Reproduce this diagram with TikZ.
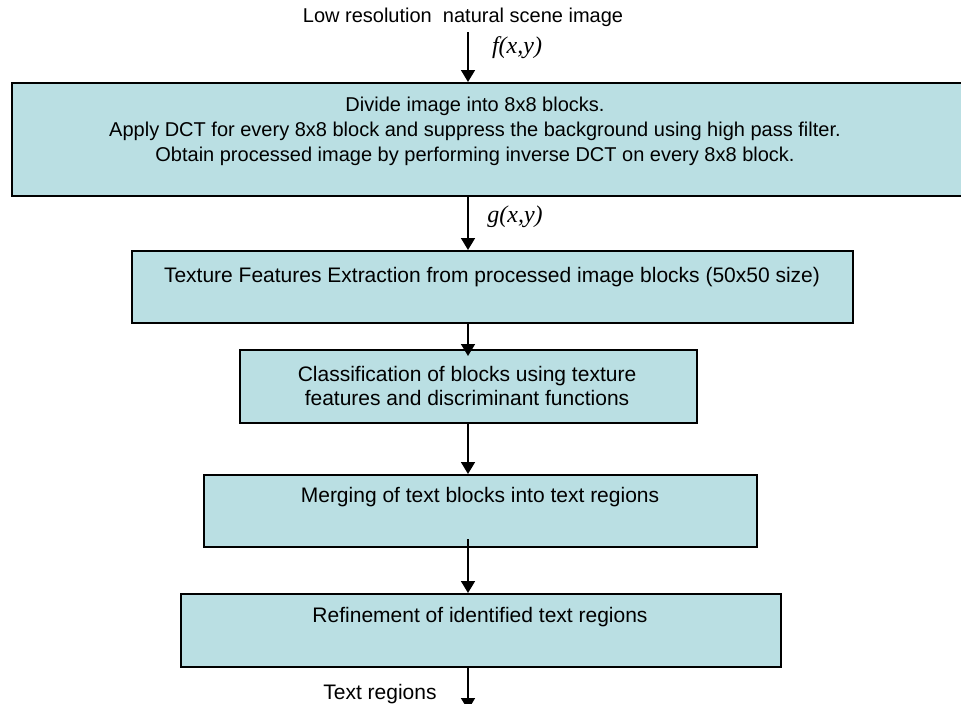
\documentclass[tikz,border=0pt]{standalone}
\usepackage{fontspec}
\setmainfont{Liberation Sans}
\newfontfamily\mathserif{Liberation Serif}
\usetikzlibrary{arrows.meta}
\definecolor{boxfill}{RGB}{186,223,227}
\tikzset{
  stage/.style={draw=black, line width=2pt, fill=boxfill, anchor=north west, inner sep=0pt},
  stagetext/.style={font=\fontsize{21}{24}\selectfont, align=center, inner sep=0pt},
  widetext/.style={font=\fontsize{20}{25}\selectfont, align=center, inner sep=0pt},
  flow/.style={line width=1.6pt, -{Triangle[length=12pt,width=14pt]}},
  sig/.style={font=\mathserif\itshape\fontsize{24}{26}\selectfont, inner sep=0pt}
}
\begin{document}
\begin{tikzpicture}[x=1pt,y=-1pt]
\clip (0,0) rectangle (961,704);
\fill[white] (0,0) rectangle (961,704);

% processing stages
\node[stage, minimum width=960pt, minimum height=113pt] (b1) at (11,82) {};
\node[stage, minimum width=721pt, minimum height=72pt] (b2) at (131,250) {};
\node[stage, minimum width=457pt, minimum height=73pt] (b3) at (239,349) {};
\node[stage, minimum width=553pt, minimum height=72pt] (b4) at (203,474) {};
\node[stage, minimum width=600pt, minimum height=73pt] (b5) at (180,593) {};

% stage descriptions
\node[widetext] (t1) at (475,131) {Divide image into 8x8 blocks.\\Apply DCT for every 8x8 block and suppress the background using high pass filter.\\Obtain processed image by performing inverse DCT on every 8x8 block.};
\node[stagetext] (t2) at (492,277) {Texture Features Extraction from processed image blocks (50x50 size)};
\node[stagetext] (t3) at (467,386) {Classification of blocks using texture\\features and discriminant functions};
\node[stagetext] (t4) at (480,497) {Merging of text blocks into text regions};
\node[stagetext] (t5) at (480,617) {Refinement of identified text regions};

% input and output labels
\node[widetext] (in) at (463,17) {Low resolution\ \ natural scene image};
\node[stagetext] (out) at (380,694) {Text regions};
\node[sig] (f) at (517,48) {f(x,y)};
\node[sig] (g) at (515,217) {g(x,y)};

% flow of data between stages
\coordinate (src) at (468,32);
\coordinate (sink) at (468,710);
\draw[flow] (src) -- (b1.north -| src);
\draw[flow] (b1.south -| src) -- (b2.north -| src);
\draw[flow] (b2.south -| src) -- ([yshift=-7pt]b3.north -| src);
\draw[flow] (b3.south -| src) -- (b4.north -| src);
\draw[flow] ([yshift=9pt]b4.south -| src) -- (b5.north -| src);
\draw[flow] (b5.south -| src) -- (sink);
\end{tikzpicture}
\end{document}
